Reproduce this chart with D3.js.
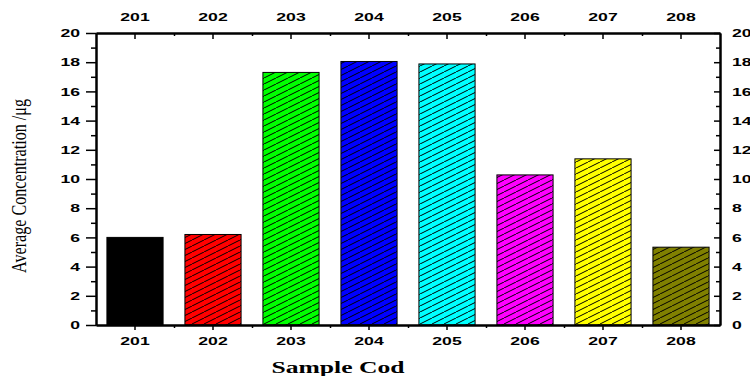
<!DOCTYPE html>
<html><head><meta charset="utf-8">
<script src="https://cdn.jsdelivr.net/npm/d3@7"></script>
<style>body{margin:0;background:#fff}svg{display:block}</style>
</head><body>
<svg id="c" width="750" height="376"></svg>
<script>
const categories = ["201","202","203","204","205","206","207","208"];
const values = [6.0, 6.2, 17.3, 18.05, 17.88, 10.28, 11.38, 5.33];
const colors = ["#000000","#ff0000","#00ff00","#0000ff","#00ffff","#ff00ff","#ffff00","#808000"];
const yMajorTicks = [0,2,4,6,8,10,12,14,16,18,20];
const yMinorTicks = [1,3,5,7,9,11,13,15,17,19];
const xLabel = "Sample Cod";
const yLabel = "Average Concentration /μg";

const svg = d3.select("#c");
const L = 96, R = 720, T = 33, B = 325;
const x = d3.scaleBand().domain(categories).range([L, R]).paddingInner(0.28).paddingOuter(0.14);
const xb = d3.scaleLinear().domain([0, categories.length]).range([L, R]);
const y = d3.scaleLinear().domain([0, 20]).range([B, T]);

const defs = svg.append("defs");
colors.forEach((c, i) => {
  const p = defs.append("pattern").attr("id", "h" + i).attr("patternUnits", "userSpaceOnUse")
    .attr("width", 12).attr("height", 6);
  p.append("rect").attr("width", 12).attr("height", 6).attr("fill", c);
  p.append("line").attr("x1", -1).attr("y1", 6.5).attr("x2", 13).attr("y2", -0.5)
    .attr("stroke", "#000").attr("stroke-width", 1);
});

svg.append("g").selectAll("rect").data(categories).join("rect")
  .attr("x", d => x(d)).attr("width", x.bandwidth())
  .attr("y", (d, i) => y(values[i])).attr("height", (d, i) => B - y(values[i]))
  .attr("fill", (d, i) => i === 0 ? colors[0] : `url(#h${i})`)
  .attr("stroke", "#000").attr("stroke-width", 1);

const fontTick = "bold 11.5px 'Liberation Sans', Arial, sans-serif";
function styleAxis(g, major) {
  g.select(".domain").attr("stroke", "#000").attr("stroke-width", 2);
  g.selectAll(".tick line").attr("stroke", "#000").attr("stroke-width", 1.5);
  if (major) {
    g.selectAll(".tick text").style("font", fontTick).attr("fill", "#000")
      .each(function () { const t = d3.select(this); t.attr("textLength", t.text().length * 9.8).attr("lengthAdjust", "spacingAndGlyphs"); });
  }
}
// left
svg.append("g").attr("transform", `translate(${L},0)`)
  .call(d3.axisLeft(y).tickValues(yMajorTicks).tickSize(10).tickPadding(6).tickSizeOuter(0))
  .call(g => styleAxis(g, true));
svg.append("g").attr("transform", `translate(${L},0)`)
  .call(d3.axisLeft(y).tickValues(yMinorTicks).tickSize(5).tickFormat("").tickSizeOuter(0))
  .call(g => styleAxis(g, false));
// right (inward ticks, labels outside)
svg.append("g").attr("transform", `translate(${R},0)`)
  .call(d3.axisRight(y).tickValues(yMajorTicks).tickSize(-6).tickPadding(12).tickSizeOuter(0))
  .call(g => styleAxis(g, true));
svg.append("g").attr("transform", `translate(${R},0)`)
  .call(d3.axisRight(y).tickValues(yMinorTicks).tickSize(-4).tickFormat("").tickSizeOuter(0))
  .call(g => styleAxis(g, false));
// bottom
svg.append("g").attr("transform", `translate(0,${B})`)
  .call(d3.axisBottom(x).tickSize(5).tickPadding(7).tickSizeOuter(0))
  .call(g => styleAxis(g, true));
svg.append("g").attr("transform", `translate(0,${B})`)
  .call(d3.axisBottom(xb).tickValues(d3.range(1, categories.length)).tickSize(3).tickFormat("").tickSizeOuter(0))
  .call(g => styleAxis(g, false));
// top (inward ticks)
svg.append("g").attr("transform", `translate(0,${T})`)
  .call(d3.axisTop(x).tickSize(-6).tickPadding(12).tickSizeOuter(0))
  .call(g => styleAxis(g, true));
svg.append("g").attr("transform", `translate(0,${T})`)
  .call(d3.axisTop(xb).tickValues(d3.range(1, categories.length)).tickSize(-3).tickFormat("").tickSizeOuter(0))
  .call(g => styleAxis(g, false));

svg.append("text").attr("x", 338).attr("y", 373).attr("text-anchor", "middle")
  .style("font", "bold 16.5px 'Liberation Serif', 'Times New Roman', serif")
  .attr("textLength", 133).attr("lengthAdjust", "spacingAndGlyphs").text(xLabel);
svg.append("text").attr("transform", "translate(26,186) rotate(-90)").attr("text-anchor", "middle")
  .style("font", "22px 'Liberation Serif', 'Times New Roman', serif")
  .attr("textLength", 174).attr("lengthAdjust", "spacingAndGlyphs").text(yLabel);
</script>
</body></html>
